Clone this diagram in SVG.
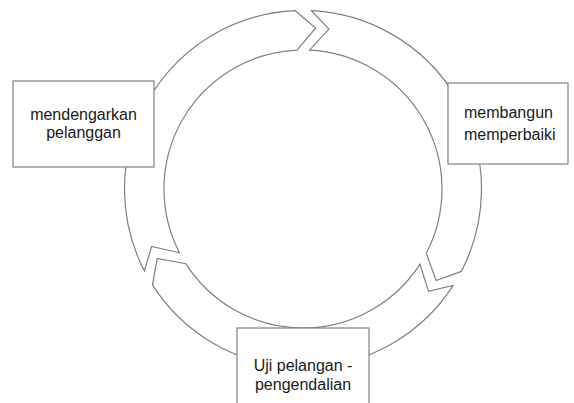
<svg xmlns="http://www.w3.org/2000/svg" width="574" height="403" viewBox="0 0 574 403">
  <style>
    .ring { fill: #ffffff; stroke: #808080; stroke-width: 1.2; stroke-linejoin: miter; }
    .box { fill: #ffffff; stroke: #808080; stroke-width: 1.2; }
    .lbl { font-family: "Liberation Sans", Arial, sans-serif; font-size: 16px; fill: #1a1a1a; }
  </style>
  <rect width="574" height="403" fill="#ffffff"/>
  <g id="connectors">
    <path class="ring" d="M 144.38 270.86 A 178.5 178.5 0 0 1 295.21 10.67 L 315.67 28.0 L 296.94 50.13 A 139 139 0 0 0 179.48 252.75 L 151.56 246.53 Z"/>
    <path class="ring" d="M 311.41 10.70 A 178.5 178.5 0 0 1 461.33 271.42 L 436.10 280.48 L 426.29 253.18 A 139 139 0 0 0 309.55 50.15 L 328.90 29.08 Z"/>
    <path class="ring" d="M 453.21 285.43 A 178.5 178.5 0 0 1 152.45 284.91 L 157.23 258.53 L 185.77 263.68 A 139 139 0 0 0 419.97 264.09 L 428.54 291.39 Z"/>
  </g>
  <g id="node-mendengarkan">
    <rect class="box" x="13" y="81" width="141" height="86"/>
    <text class="lbl" x="83.5" y="120" text-anchor="middle">mendengarkan</text>
    <text class="lbl" x="83.5" y="138" text-anchor="middle">pelanggan</text>
  </g>
  <g id="node-membangun">
    <rect class="box" x="448" y="83" width="120" height="81"/>
    <text class="lbl" x="464" y="118">membangun</text>
    <text class="lbl" x="464" y="140">memperbaiki</text>
  </g>
  <g id="node-uji">
    <rect class="box" x="237" y="328" width="132" height="80"/>
    <text class="lbl" x="303" y="371" text-anchor="middle">Uji pelangan -</text>
    <text class="lbl" x="303" y="390" text-anchor="middle">pengendalian</text>
  </g>
</svg>
